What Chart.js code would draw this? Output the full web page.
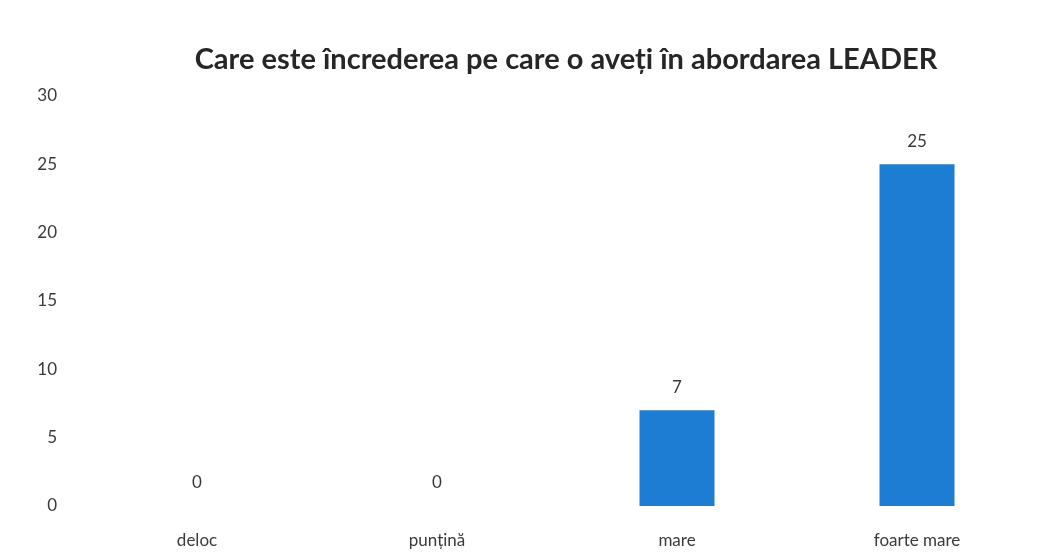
<!DOCTYPE html>
<html>
<head>
<meta charset="utf-8">
<script src="https://cdn.jsdelivr.net/npm/chart.js@4/dist/chart.umd.min.js"></script>
<style>
  html, body { margin: 0; padding: 0; background: #fff; }
  #wrap { width: 1050px; height: 557px; position: relative; }
</style>
</head>
<body>
<div id="wrap"><canvas id="chart"></canvas></div>
<script>
const categories = ['deloc', 'punțină', 'mare', 'foarte mare'];
const answers = [0, 0, 7, 25];
const yTicks = [0, 5, 10, 15, 20, 25, 30];
const chartTitle = 'Care este încrederea pe care o aveți în abordarea LEADER';

const fontFamily = 'Lato, "Open Sans", "Noto Sans", sans-serif';
const textColor = '#3a3a3a';

// value labels above the bars
const valueLabels = {
    id: 'valueLabels',
    afterDatasetsDraw(chart) {
        const { ctx } = chart;
        const meta = chart.getDatasetMeta(0);
        ctx.save();
        ctx.font = '17px ' + fontFamily;
        ctx.fillStyle = textColor;
        ctx.textAlign = 'center';
        ctx.textBaseline = 'middle';
        meta.data.forEach((bar, i) => {
            ctx.fillText(String(answers[i]), bar.x, bar.y - 23);
        });
        ctx.restore();
    }
};

// title centred over the plot area, not the whole canvas
const plotTitle = {
    id: 'plotTitle',
    afterDraw(chart) {
        const { ctx, chartArea } = chart;
        ctx.save();
        ctx.font = 'bold 29px ' + fontFamily;
        ctx.fillStyle = '#262626';
        ctx.textAlign = 'center';
        ctx.textBaseline = 'middle';
        ctx.fillText(chartTitle, (chartArea.left + chartArea.right) / 2 + 9, 60);
        ctx.restore();
    }
};

new Chart(document.getElementById('chart'), {
    type: 'bar',
    data: {
        labels: categories,
        datasets: [{
            data: answers,
            backgroundColor: '#1d7dd2',
            borderWidth: 0,
            barPercentage: 0.625,
            categoryPercentage: 0.5
        }]
    },
    options: {
        responsive: true,
        maintainAspectRatio: false,
        animation: false,
        layout: { padding: { top: 96, right: 13, bottom: 0, left: 0 } },
        scales: {
            x: {
                afterFit(axis) { axis.height = 51; },
                grid: { display: false, drawTicks: false },
                border: { display: false },
                ticks: { color: textColor, font: { family: fontFamily, size: 17 }, padding: 24, maxRotation: 0 }
            },
            y: {
                min: 0, max: 30,
                afterBuildTicks(axis) { axis.ticks = yTicks.map(v => ({ value: v })); },
                afterFit(axis) { axis.width = 77; },
                grid: { display: false, drawTicks: false },
                border: { display: false },
                ticks: { color: textColor, font: { family: fontFamily, size: 17 }, padding: 20 }
            }
        },
        plugins: {
            legend: { display: false },
            tooltip: { enabled: false },
            title: { display: false }
        }
    },
    plugins: [valueLabels, plotTitle]
});
</script>
</body>
</html>
